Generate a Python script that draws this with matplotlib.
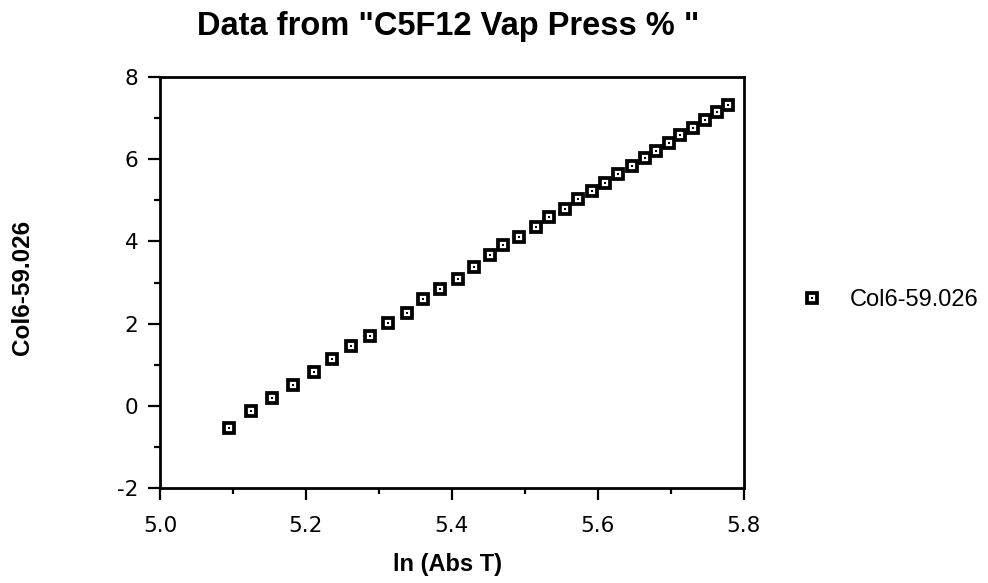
import matplotlib
matplotlib.use('Agg')
import matplotlib.pyplot as plt
from matplotlib.ticker import MultipleLocator

# data
ln_abs_t = [5.095, 5.124, 5.154, 5.182, 5.211, 5.236, 5.262, 5.288, 5.313, 5.338,
            5.360, 5.383, 5.408, 5.430, 5.452, 5.470, 5.492, 5.515, 5.533, 5.555,
            5.572, 5.592, 5.609, 5.628, 5.647, 5.664, 5.680, 5.697, 5.712, 5.730,
            5.746, 5.763, 5.778]
col6 = [-0.53, -0.13, 0.18, 0.50, 0.82, 1.13, 1.45, 1.71, 2.02, 2.27,
        2.59, 2.84, 3.09, 3.37, 3.67, 3.92, 4.10, 4.36, 4.60, 4.79,
        5.03, 5.23, 5.41, 5.65, 5.84, 6.02, 6.20, 6.40, 6.59, 6.76,
        6.95, 7.15, 7.33]

x_ticks = [5.0, 5.2, 5.4, 5.6, 5.8]
x_tick_labels = ['5.0', '5.2', '5.4', '5.6', '5.8']
y_ticks = [-2, 0, 2, 4, 6, 8]
y_tick_labels = ['-2', '0', '2', '4', '6', '8']

title = 'Data from "C5F12 Vap Press % "'
x_label = 'ln (Abs T)'
y_label = 'Col6-59.026'
series_name = 'Col6-59.026'

bold_font = ['Liberation Sans', 'DejaVu Sans']

fig = plt.figure(figsize=(9.88, 5.83), dpi=100)
ax = fig.add_axes([160 / 988, 1 - 488 / 583, (744 - 160) / 988, (488 - 77) / 583])

# square marker with a dot inside
h1, = ax.plot(ln_abs_t, col6, linestyle='none', marker='s', markersize=6.6,
              markerfacecolor='white', markeredgecolor='black', markeredgewidth=2.7)
h2, = ax.plot(ln_abs_t, col6, linestyle='none', marker='s', markersize=1.5,
              markerfacecolor='black', markeredgewidth=0)

ax.set_xlim(5.0, 5.8)
ax.set_ylim(-2, 8)
ax.set_xticks(x_ticks)
ax.set_xticklabels(x_tick_labels, family='DejaVu Sans', fontsize=15.5)
ax.set_yticks(y_ticks)
ax.set_yticklabels(y_tick_labels, family='DejaVu Sans', fontsize=15.5)
ax.xaxis.set_minor_locator(MultipleLocator(0.1))
ax.yaxis.set_minor_locator(MultipleLocator(1))
ax.tick_params(which='major', direction='out', length=8.5, width=1.6, color='black')
ax.tick_params(which='minor', direction='out', length=4.3, width=1.6, color='black')
ax.tick_params(axis='x', which='major', pad=12)
ax.tick_params(axis='y', which='major', pad=7)

for s in ax.spines.values():
    s.set_linewidth(2.0)

fig.text(448 / 988, 1 - 27 / 583, title, ha='center', va='center',
         family=bold_font, fontweight='bold', fontsize=23.5)
fig.text(447 / 988, 1 - 565 / 583, x_label, ha='center', va='center',
         family=bold_font, fontweight='bold', fontsize=17)
fig.text(23 / 988, 1 - 287 / 583, y_label, ha='center', va='center', rotation=90,
         family=bold_font, fontweight='bold', fontsize=17.5)

fig.legend([(h1, h2)], [series_name], loc='center left',
           bbox_to_anchor=(779 / 988, 1 - 300 / 583), frameon=False,
           handlelength=1.0, handletextpad=1.1,
           prop={'family': 'Liberation Sans', 'size': 17})

fig.savefig('out.png', dpi=100)
